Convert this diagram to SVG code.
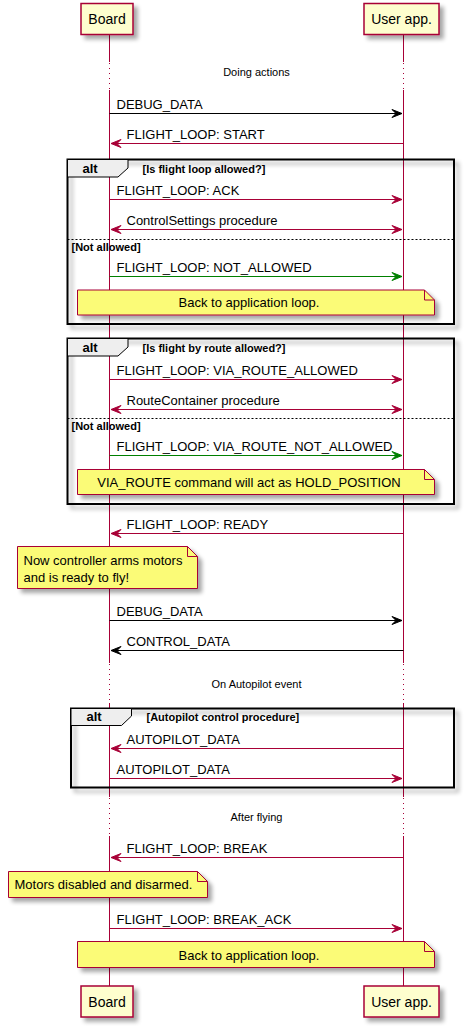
<svg xmlns="http://www.w3.org/2000/svg" width="464" height="1028" viewBox="0 0 464 1028">
<defs>
<filter id="sh" x="-20%" y="-20%" width="150%" height="150%">
<feGaussianBlur in="SourceAlpha" stdDeviation="2"/>
<feOffset dx="4" dy="4" result="b"/>
<feComponentTransfer in="b" result="c"><feFuncA type="linear" slope="0.35"/></feComponentTransfer>
<feMerge><feMergeNode in="c"/><feMergeNode in="SourceGraphic"/></feMerge>
</filter>
</defs>
<style>
text{font-family:"Liberation Sans",Arial,sans-serif;fill:#000}
.msg{font-size:13px}
.part{font-size:14px}
.small{font-size:11px}
.bold{font-size:11px;font-weight:bold}
.alt{font-size:13px;font-weight:bold}
.pbox{fill:#FEFECE;stroke:#A80036;stroke-width:1.5;filter:url(#sh)}
.life{stroke:#A80036;stroke-width:1;fill:none}
.dot{stroke:#A80036;stroke-width:1;stroke-dasharray:1,4;fill:none}
.red{stroke:#A80036;stroke-width:1;fill:none}
.redh{fill:#A80036;stroke:#A80036;stroke-width:1}
.blk{stroke:#000;stroke-width:1;fill:none}
.blkh{fill:#000;stroke:#000;stroke-width:1}
.grn{stroke:#008000;stroke-width:1;fill:none}
.grnh{fill:#008000;stroke:#008000;stroke-width:1}
.frame{fill:none;stroke:#000;stroke-width:2;filter:url(#sh)}
.tab{fill:#EEEEEE;stroke:#000;stroke-width:1}
.sep{stroke:#000;stroke-width:1;stroke-dasharray:2,2}
.note{fill:#FBFB77;stroke:#A80036;stroke-width:1;filter:url(#sh)}
.fold{fill:none;stroke:#A80036;stroke-width:1}
</style>

<g id="lifelines">
<line class="life" x1="109.5" y1="35" x2="109.5" y2="62"/>
<line class="dot" x1="109.5" y1="63" x2="109.5" y2="90"/>
<line class="life" x1="109.5" y1="90" x2="109.5" y2="663"/>
<line class="dot" x1="109.5" y1="664" x2="109.5" y2="703"/>
<line class="life" x1="109.5" y1="703" x2="109.5" y2="797"/>
<line class="dot" x1="109.5" y1="798" x2="109.5" y2="836"/>
<line class="life" x1="109.5" y1="836" x2="109.5" y2="986"/>
<line class="life" x1="403.5" y1="35" x2="403.5" y2="62"/>
<line class="dot" x1="403.5" y1="63" x2="403.5" y2="90"/>
<line class="life" x1="403.5" y1="90" x2="403.5" y2="663"/>
<line class="dot" x1="403.5" y1="664" x2="403.5" y2="703"/>
<line class="life" x1="403.5" y1="703" x2="403.5" y2="797"/>
<line class="dot" x1="403.5" y1="798" x2="403.5" y2="836"/>
<line class="life" x1="403.5" y1="836" x2="403.5" y2="986"/>
</g>

<g id="participant-board-top">
<rect class="pbox" x="81" y="3.5" width="52" height="31"/>
<text class="part" x="107" y="24" text-anchor="middle">Board</text>
</g>
<g id="participant-user-top">
<rect class="pbox" x="364" y="3.5" width="75" height="31"/>
<text class="part" x="401.5" y="24" text-anchor="middle">User app.</text>
</g>
<g id="participant-board-bottom">
<rect class="pbox" x="81" y="986" width="52" height="31"/>
<text class="part" x="107" y="1006.5" text-anchor="middle">Board</text>
</g>
<g id="participant-user-bottom">
<rect class="pbox" x="364" y="986" width="75" height="31"/>
<text class="part" x="401.5" y="1006.5" text-anchor="middle">User app.</text>
</g>

<g id="delay1"><text class="small" x="256.5" y="75.5" text-anchor="middle">Doing actions</text></g>
<g id="delay2"><text class="small" x="256.5" y="688" text-anchor="middle">On Autopilot event</text></g>
<g id="delay3"><text class="small" x="256.5" y="821" text-anchor="middle">After flying</text></g>

<g id="alt1">
<rect class="frame" x="67.5" y="159.5" width="386.5" height="164.5"/>
<polygon class="tab" points="67.5,159.5 128,159.5 128,168 118,177 67.5,177"/>
<text class="alt" x="82.5" y="173">alt</text>
<text class="bold" x="142.5" y="172.5">[Is flight loop allowed?]</text>
<line class="sep" x1="67.5" y1="239.5" x2="454" y2="239.5"/>
<text class="bold" x="71.5" y="250.5">[Not allowed]</text>
</g>
<g id="alt2">
<rect class="frame" x="67.5" y="338.5" width="386.5" height="165.5"/>
<polygon class="tab" points="67.5,338.5 128,338.5 128,347 118,356 67.5,356"/>
<text class="alt" x="82.5" y="352">alt</text>
<text class="bold" x="142.5" y="351.5">[Is flight by route allowed?]</text>
<line class="sep" x1="67.5" y1="418.5" x2="454" y2="418.5"/>
<text class="bold" x="71.5" y="430">[Not allowed]</text>
</g>
<g id="alt3">
<rect class="frame" x="71" y="708.5" width="383" height="79"/>
<polygon class="tab" points="71,708.5 131.5,708.5 131.5,716 121.5,725.5 71,725.5"/>
<text class="alt" x="86.5" y="721">alt</text>
<text class="bold" x="146.5" y="720.5">[Autopilot control procedure]</text>
</g>

<g id="note1">
<path class="note" d="M77.5,290 L424.5,290 L434.5,300 L434.5,315 L77.5,315 Z"/>
<path class="fold" d="M424.5,290 L424.5,300 L434.5,300"/>
<text class="msg" x="249" y="307" text-anchor="middle">Back to application loop.</text>
</g>
<g id="note2">
<path class="note" d="M77.5,469.5 L424.5,469.5 L434.5,479.5 L434.5,494.5 L77.5,494.5 Z"/>
<path class="fold" d="M424.5,469.5 L424.5,479.5 L434.5,479.5"/>
<text class="msg" x="249" y="486.5" text-anchor="middle">VIA_ROUTE command will act as HOLD_POSITION</text>
</g>
<g id="note3">
<path class="note" d="M17.5,546.5 L187.5,546.5 L197.5,556.5 L197.5,588.5 L17.5,588.5 Z"/>
<path class="fold" d="M187.5,546.5 L187.5,556.5 L197.5,556.5"/>
<text class="msg" x="23.5" y="565">Now controller arms motors</text>
<text class="msg" x="23.5" y="581.5">and is ready to fly!</text>
</g>
<g id="note4">
<path class="note" d="M8.5,871.5 L197.5,871.5 L207.5,881.5 L207.5,897.5 L8.5,897.5 Z"/>
<path class="fold" d="M197.5,871.5 L197.5,881.5 L207.5,881.5"/>
<text class="msg" x="14.5" y="889">Motors disabled and disarmed.</text>
</g>
<g id="note5">
<path class="note" d="M77.5,941.5 L424.5,941.5 L434.5,951.5 L434.5,967.5 L77.5,967.5 Z"/>
<path class="fold" d="M424.5,941.5 L424.5,951.5 L434.5,951.5"/>
<text class="msg" x="249" y="960" text-anchor="middle">Back to application loop.</text>
</g>

<g id="connectors">
<!-- DEBUG_DATA -->
<line class="blk" x1="109.5" y1="113.5" x2="402" y2="113.5"/>
<polygon class="blkh" points="392,109.5 402,113.5 392,117.5 396,113.5"/>
<text class="msg" x="116.5" y="109">DEBUG_DATA</text>
<!-- START -->
<line class="red" x1="111" y1="143.5" x2="403.5" y2="143.5"/>
<polygon class="redh" points="121,139.5 111,143.5 121,147.5 117,143.5"/>
<text class="msg" x="126.5" y="139">FLIGHT_LOOP: START</text>
<!-- ACK -->
<line class="red" x1="109.5" y1="199.5" x2="402" y2="199.5"/>
<polygon class="redh" points="392,195.5 402,199.5 392,203.5 396,199.5"/>
<text class="msg" x="116.5" y="195">FLIGHT_LOOP: ACK</text>
<!-- ControlSettings -->
<line class="red" x1="111" y1="229.5" x2="402" y2="229.5"/>
<polygon class="redh" points="121,225.5 111,229.5 121,233.5 117,229.5"/>
<polygon class="redh" points="392,225.5 402,229.5 392,233.5 396,229.5"/>
<text class="msg" x="126.5" y="224.5">ControlSettings procedure</text>
<!-- NOT_ALLOWED -->
<line class="grn" x1="109.5" y1="276.5" x2="402" y2="276.5"/>
<polygon class="grnh" points="392,272.5 402,276.5 392,280.5 396,276.5"/>
<text class="msg" x="116.5" y="272">FLIGHT_LOOP: NOT_ALLOWED</text>
<!-- VIA_ROUTE_ALLOWED -->
<line class="red" x1="109.5" y1="379.5" x2="402" y2="379.5"/>
<polygon class="redh" points="392,375.5 402,379.5 392,383.5 396,379.5"/>
<text class="msg" x="116.5" y="375">FLIGHT_LOOP: VIA_ROUTE_ALLOWED</text>
<!-- RouteContainer -->
<line class="red" x1="111" y1="409.5" x2="402" y2="409.5"/>
<polygon class="redh" points="121,405.5 111,409.5 121,413.5 117,409.5"/>
<polygon class="redh" points="392,405.5 402,409.5 392,413.5 396,409.5"/>
<text class="msg" x="126.5" y="404.5">RouteContainer procedure</text>
<!-- VIA_ROUTE_NOT_ALLOWED -->
<line class="grn" x1="109.5" y1="455.5" x2="402" y2="455.5"/>
<polygon class="grnh" points="392,451.5 402,455.5 392,459.5 396,455.5"/>
<text class="msg" x="116.5" y="451">FLIGHT_LOOP: VIA_ROUTE_NOT_ALLOWED</text>
<!-- READY -->
<line class="red" x1="111" y1="533.5" x2="403.5" y2="533.5"/>
<polygon class="redh" points="121,529.5 111,533.5 121,537.5 117,533.5"/>
<text class="msg" x="126.5" y="529">FLIGHT_LOOP: READY</text>
<!-- DEBUG_DATA 2 -->
<line class="blk" x1="109.5" y1="620.5" x2="402" y2="620.5"/>
<polygon class="blkh" points="392,616.5 402,620.5 392,624.5 396,620.5"/>
<text class="msg" x="116.5" y="616">DEBUG_DATA</text>
<!-- CONTROL_DATA -->
<line class="blk" x1="111" y1="650.5" x2="403.5" y2="650.5"/>
<polygon class="blkh" points="121,646.5 111,650.5 121,654.5 117,650.5"/>
<text class="msg" x="126.5" y="646">CONTROL_DATA</text>
<!-- AUTOPILOT_DATA left -->
<line class="red" x1="111" y1="748.5" x2="403.5" y2="748.5"/>
<polygon class="redh" points="121,744.5 111,748.5 121,752.5 117,748.5"/>
<text class="msg" x="126.5" y="743.5">AUTOPILOT_DATA</text>
<!-- AUTOPILOT_DATA right -->
<line class="red" x1="109.5" y1="778.5" x2="402" y2="778.5"/>
<polygon class="redh" points="392,774.5 402,778.5 392,782.5 396,778.5"/>
<text class="msg" x="116.5" y="773.5">AUTOPILOT_DATA</text>
<!-- BREAK -->
<line class="red" x1="111" y1="857.5" x2="403.5" y2="857.5"/>
<polygon class="redh" points="121,853.5 111,857.5 121,861.5 117,857.5"/>
<text class="msg" x="126.5" y="853">FLIGHT_LOOP: BREAK</text>
<!-- BREAK_ACK -->
<line class="red" x1="109.5" y1="928.5" x2="402" y2="928.5"/>
<polygon class="redh" points="392,924.5 402,928.5 392,932.5 396,928.5"/>
<text class="msg" x="116.5" y="923.5">FLIGHT_LOOP: BREAK_ACK</text>
</g>
</svg>
